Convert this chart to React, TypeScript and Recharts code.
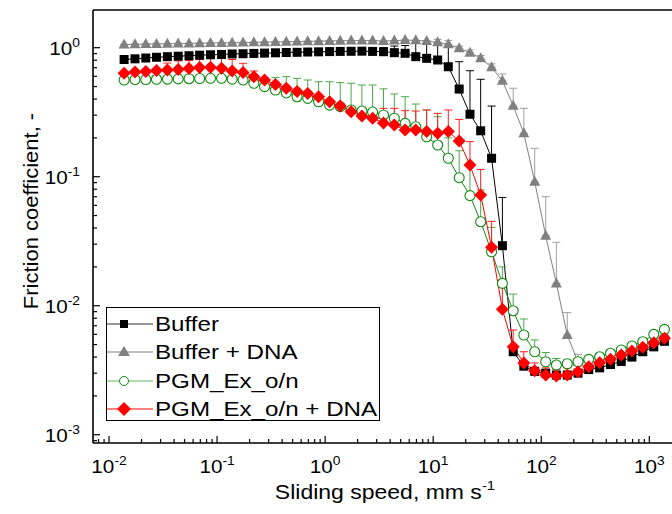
import { LineChart, Line, XAxis, YAxis, ErrorBar, Label } from "recharts";

const speeds = [
  0.0138, 0.0174, 0.0219, 0.0275, 0.0347, 0.0437, 0.055, 0.069, 0.087, 0.11,
  0.138, 0.174, 0.219, 0.275, 0.347, 0.437, 0.55, 0.69, 0.87, 1.1,
  1.38, 1.74, 2.19, 2.75, 3.47, 4.37, 5.5, 6.9, 8.7, 11,
  13.8, 17.4, 21.9, 27.5, 34.7, 43.7, 55, 69, 87, 110,
  138, 174, 219, 275, 347, 437, 550, 690, 870, 1100, 1380,
];

// Buffer
const buffer = [
  0.81, 0.82, 0.832, 0.843, 0.852, 0.859, 0.867, 0.875, 0.881, 0.887,
  0.894, 0.898, 0.903, 0.908, 0.913, 0.918, 0.921, 0.926, 0.929, 0.933,
  0.936, 0.938, 0.94, 0.936, 0.931, 0.915, 0.905, 0.852, 0.827, 0.803,
  0.712, 0.478, 0.305, 0.227, 0.139, 0.0292, 0.0044, 0.0034, 0.0031, 0.003,
  0.0029, 0.0029, 0.003, 0.0032, 0.0033, 0.0035, 0.0037, 0.004, 0.0044, 0.0048, 0.0053,
];
const bufferTop = [
  0.81, 0.82, 0.832, 0.843, 0.852, 0.859, 0.867, 0.875, 0.881, 0.887,
  0.894, 0.898, 0.903, 0.908, 0.913, 0.918, 0.921, 0.926, 0.929, 0.933,
  0.936, 0.938, 0.97, 0.98, 1.0, 1.03, 1.04, 1.08, 1.06, 1.08,
  1.018, 0.779, 0.663, 0.569, 0.353, 0.0691, 0.0048, 0.0036, 0.0033, 0.0032,
  0.0031, 0.0031, 0.0032, 0.0034, 0.0035, 0.0037, 0.0039, 0.0042, 0.0046, 0.005, 0.0056,
];

// Buffer + DNA
const bufferDna = [
  1.059, 1.062, 1.066, 1.07, 1.073, 1.077, 1.08, 1.084, 1.087, 1.09,
  1.093, 1.097, 1.1, 1.104, 1.108, 1.112, 1.116, 1.12, 1.124, 1.128,
  1.132, 1.135, 1.137, 1.135, 1.125, 1.135, 1.145, 1.14, 1.127, 1.101,
  1.063, 0.989, 0.915, 0.828, 0.705, 0.555, 0.355, 0.217, 0.0914, 0.0348,
  0.0149, 0.00592, 0.00368, 0.0036, 0.0038, 0.004, 0.0043, 0.0046, 0.005, 0.0055, 0.0061,
];
const bufferDnaTop = [
  1.059, 1.062, 1.066, 1.07, 1.073, 1.077, 1.08, 1.084, 1.087, 1.09,
  1.093, 1.097, 1.1, 1.104, 1.108, 1.112, 1.116, 1.12, 1.124, 1.128,
  1.132, 1.135, 1.137, 1.135, 1.125, 1.135, 1.145, 1.14, 1.127, 1.16,
  1.14, 1.03, 0.96, 0.87, 0.75, 0.625, 0.485, 0.339, 0.166, 0.07,
  0.031, 0.00885, 0.0042, 0.0037, 0.0039, 0.0041, 0.0044, 0.0047, 0.0051, 0.0056, 0.0062,
];

// PGM_Ex_o/n
const pgm = [
  0.562, 0.565, 0.567, 0.569, 0.571, 0.573, 0.575, 0.577, 0.579, 0.579,
  0.57, 0.562, 0.53, 0.499, 0.47, 0.446, 0.417, 0.405, 0.381, 0.359,
  0.349, 0.329, 0.323, 0.317, 0.301, 0.284, 0.259, 0.244, 0.204, 0.176,
  0.139, 0.0983, 0.0713, 0.0448, 0.0262, 0.0149, 0.00915, 0.00593, 0.0044, 0.00368,
  0.00347, 0.00355, 0.00368, 0.00384, 0.00402, 0.00428, 0.00454, 0.00488, 0.00526, 0.006, 0.00656,
];
const pgmTop = [
  0.562, 0.565, 0.567, 0.569, 0.571, 0.573, 0.575, 0.577, 0.579, 0.579,
  0.57, 0.562, 0.57, 0.56, 0.589, 0.596, 0.579, 0.562, 0.545, 0.545,
  0.536, 0.53, 0.514, 0.514, 0.48, 0.438, 0.417, 0.366, 0.329, 0.292,
  0.2, 0.159, 0.121, 0.079, 0.0405, 0.02, 0.0123, 0.0079, 0.00543, 0.00434,
  0.0039, 0.0038, 0.0039, 0.0041, 0.0043, 0.0045, 0.0048, 0.0052, 0.0056, 0.0064, 0.007,
];

// PGM_Ex_o/n + DNA
const pgmDna = [
  0.633, 0.648, 0.654, 0.666, 0.672, 0.678, 0.69, 0.702, 0.705, 0.692,
  0.66, 0.642, 0.596, 0.562, 0.518, 0.485, 0.458, 0.441, 0.417, 0.381,
  0.353, 0.319, 0.296, 0.284, 0.261, 0.252, 0.23, 0.23, 0.224, 0.217,
  0.224, 0.189, 0.123, 0.0722, 0.0284, 0.00938, 0.00481, 0.0036, 0.00313, 0.0029,
  0.00285, 0.0029, 0.00308, 0.00336, 0.00361, 0.00384, 0.00415, 0.00445, 0.00476, 0.00517, 0.00559,
];
const pgmDnaTop = [
  0.65, 0.665, 0.675, 0.69, 0.76, 0.79, 0.796, 0.81, 0.825, 0.825,
  0.81, 0.757, 0.66, 0.585, 0.54, 0.505, 0.477, 0.46, 0.435, 0.397,
  0.368, 0.332, 0.308, 0.296, 0.339, 0.339, 0.325, 0.323, 0.329, 0.31,
  0.329, 0.278, 0.187, 0.114, 0.0451, 0.0159, 0.00648, 0.0044, 0.0036, 0.0033,
  0.0032, 0.0033, 0.0035, 0.0038, 0.0041, 0.0043, 0.0047, 0.005, 0.0053, 0.0058, 0.0063,
];

const xTicks = [0.01, 0.1, 1, 10, 100, 1000];
const yTicks = [0.001, 0.01, 0.1, 1];

const minorX: number[] = [];
for (let e = -3; e <= 3; e++) for (let m = 2; m <= 9; m++) {
  const v = m * Math.pow(10, e);
  if (v > 0.0072 && v < 1750) minorX.push(v);
}
const minorY: number[] = [];
for (let e = -4; e <= 0; e++) for (let m = 2; m <= 9; m++) {
  const v = m * Math.pow(10, e);
  if (v > 0.00087 && v < 1.95) minorY.push(v);
}

const data = speeds.map((x, i) => ({
  x,
  buf: buffer[i],
  bufErr: [0, Math.max(0, bufferTop[i] - buffer[i])],
  dna: bufferDna[i],
  dnaErr: [0, Math.max(0, bufferDnaTop[i] - bufferDna[i])],
  pgm: pgm[i],
  pgmErr: [0, Math.max(0, pgmTop[i] - pgm[i])],
  pgmDna: pgmDna[i],
  pgmDnaErr: [0, Math.max(0, pgmDnaTop[i] - pgmDna[i])],
}));

const FONT = "'Liberation Sans', Arial, sans-serif";
const STRETCH = 1.15; // the original figure is a bit wider than tall

const isMajor = (v: number) => Math.abs(Math.log10(v) - Math.round(Math.log10(v))) < 1e-6;

const XTick = ({ x, y, payload }: any) => {
  const v = payload.value;
  const major = isMajor(v);
  const exp = Math.round(Math.log10(v));
  return (
    <g>
      <line x1={x} x2={x} y1={y} y2={y - (major ? 7 : 4)} stroke="#000" strokeWidth={1.2} />
      {major && (
        <text transform={`translate(${x},${y + 30}) scale(${STRETCH},1)`} textAnchor="middle" fontFamily={FONT} fontSize={18} fill="#000">
          10<tspan dy={-8} fontSize={12}>{exp}</tspan>
        </text>
      )}
    </g>
  );
};

const YTick = ({ x, y, payload }: any) => {
  const v = payload.value;
  const major = isMajor(v);
  const exp = Math.round(Math.log10(v));
  return (
    <g>
      <line x1={x} x2={x + (major ? 7 : 4)} y1={y} y2={y} stroke="#000" strokeWidth={1.2} />
      {major && (
        <text transform={`translate(${x - 13},${y + 7}) scale(${STRETCH},1)`} textAnchor="end" fontFamily={FONT} fontSize={18} fill="#000">
          10<tspan dy={-8} fontSize={12}>{exp}</tspan>
        </text>
      )}
    </g>
  );
};

const SquareDot = (p: any) =>
  p.cx == null ? null : <rect key={p.index} x={p.cx - 4.5} y={p.cy - 4.5} width={9} height={9} fill="#000" />;
const TriDot = (p: any) =>
  p.cx == null ? null : (
    <polygon key={p.index} points={`${p.cx},${p.cy - 6} ${p.cx - 5.5},${p.cy + 4} ${p.cx + 5.5},${p.cy + 4}`} fill="#808080" />
  );
const CircleDot = (p: any) =>
  p.cx == null ? null : <circle key={p.index} cx={p.cx} cy={p.cy} r={5} fill="#fff" stroke="#108a10" strokeWidth={1.1} />;
const DiamondDot = (p: any) =>
  p.cx == null ? null : (
    <polygon key={p.index} points={`${p.cx},${p.cy - 6.5} ${p.cx + 6.5},${p.cy} ${p.cx},${p.cy + 6.5} ${p.cx - 6.5},${p.cy}`} fill="#ff0000" />
  );

const legendItems = [
  { name: "Buffer", line: "#333", marker: (cx: number, cy: number) => <rect x={cx - 4} y={cy - 4} width={8} height={8} fill="#000" /> },
  { name: "Buffer + DNA", line: "#808080", marker: (cx: number, cy: number) => <polygon points={`${cx},${cy - 6} ${cx - 6},${cy + 4} ${cx + 6},${cy + 4}`} fill="#808080" /> },
  { name: "PGM_Ex_o/n", line: "#5cb85c", marker: (cx: number, cy: number) => <circle cx={cx} cy={cy} r={4.5} fill="#fff" stroke="#108a10" /> },
  { name: "PGM_Ex_o/n + DNA", line: "#ff0000", marker: (cx: number, cy: number) => <polygon points={`${cx},${cy - 7} ${cx + 7},${cy} ${cx},${cy + 7} ${cx - 7},${cy}`} fill="#ff0000" /> },
];

export default function App() {
  return (
    <div style={{ position: "fixed", left: 0, top: 0, width: 672, height: 514, overflow: "hidden", background: "#fff" }}>
      <LineChart width={676} height={514} data={data} margin={{ top: 0, right: 0, bottom: 0, left: 0 }}>
        <XAxis
          xAxisId="top"
          orientation="top"
          type="number"
          dataKey="x"
          scale="log"
          domain={[0.00711, 1766]}
          allowDataOverflow
          height={10}
          tick={false}
          tickLine={false}
          axisLine={{ stroke: "#000", strokeWidth: 1.6 }}
        />
        <XAxis
          type="number"
          dataKey="x"
          scale="log"
          domain={[0.00711, 1766]}
          allowDataOverflow
          ticks={[...xTicks, ...minorX]}
          interval={0}
          height={71}
          tickSize={0}
          tickMargin={0}
          tickLine={false}
          tick={<XTick />}
          axisLine={{ stroke: "#000", strokeWidth: 1.6 }}
        >
          <Label
            content={() => (
              <text transform={`translate(385,499) scale(${STRETCH},1)`} textAnchor="middle" fontFamily={FONT} fontSize={20} fill="#000">
                Sliding speed, mm s<tspan dy={-9} fontSize={13}>-1</tspan>
              </text>
            )}
          />
        </XAxis>
        <YAxis
          type="number"
          scale="log"
          domain={[0.000863, 1.96]}
          allowDataOverflow
          ticks={[...yTicks, ...minorY]}
          interval={0}
          width={93}
          tickSize={0}
          tickMargin={0}
          tickLine={false}
          tick={<YTick />}
          axisLine={{ stroke: "#000", strokeWidth: 1.6 }}
        >
          <Label
            content={() => (
              <text transform={`translate(38,211) rotate(-90) scale(1.1,1)`} textAnchor="middle" fontFamily={FONT} fontSize={20} fill="#000">
                Friction coefficient, -
              </text>
            )}
          />
        </YAxis>
        <Line dataKey="buf" stroke="#000" strokeWidth={1} dot={SquareDot} isAnimationActive={false}>
          <ErrorBar dataKey="bufErr" direction="y" width={4} stroke="#000" strokeWidth={1} />
        </Line>
        <Line dataKey="dna" stroke="#808080" strokeWidth={1} dot={TriDot} isAnimationActive={false}>
          <ErrorBar dataKey="dnaErr" direction="y" width={4} stroke="#a0a0a0" strokeWidth={1} />
        </Line>
        <Line dataKey="pgm" stroke="#108a10" strokeWidth={1} dot={CircleDot} isAnimationActive={false}>
          <ErrorBar dataKey="pgmErr" direction="y" width={4} stroke="#4aa84a" strokeWidth={1} />
        </Line>
        <Line dataKey="pgmDna" stroke="#ff0000" strokeWidth={1} dot={DiamondDot} isAnimationActive={false}>
          <ErrorBar dataKey="pgmDnaErr" direction="y" width={4} stroke="#ff2020" strokeWidth={1} />
        </Line>
      </LineChart>
      <div
        style={{
          position: "absolute",
          left: 106,
          top: 307,
          width: 272,
          height: 112,
          border: "1px solid #000",
          background: "#fff",
          fontFamily: FONT,
          fontSize: 21,
        }}
      >
        {legendItems.map((it, i) => (
          <div key={it.name} style={{ position: "absolute", left: 0, top: 2 + i * 28.3, height: 28, display: "flex", alignItems: "center", whiteSpace: "nowrap" }}>
            <svg width={46} height={28}>
              <line x1={0} x2={46} y1={14} y2={14} stroke={it.line} strokeWidth={1} />
              {it.marker(17, 14)}
            </svg>
            <span style={{ marginLeft: 2, lineHeight: "28px", display: "inline-block", transform: `scaleX(${STRETCH})`, transformOrigin: "left center" }}>
              {it.name}
            </span>
          </div>
        ))}
      </div>
    </div>
  );
}
